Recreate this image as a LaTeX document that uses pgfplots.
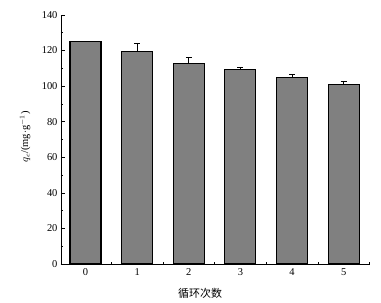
\documentclass[border=0pt]{standalone}
\usepackage{pgfplots}
\pgfplotsset{compat=1.18}
\usepackage{fontspec}
\setmainfont{Liberation Serif}
\newfontfamily\cjk{Noto Sans CJK SC}
\begin{document}
\begin{tikzpicture}
\path[use as bounding box] (-61bp,-39bp) rectangle (320bp,264bp);
\begin{axis}[
  at={(0,0)}, anchor=south west,
  scale only axis,
  width=309bp, height=249bp,
  axis lines*=left,
  xmin=-0.475, xmax=5.51,
  ymin=0, ymax=140,
  ytick={0,20,...,140},
  minor y tick num=1,
  xtick={0,1,2,3,4,5},
  minor xtick={0.5,1.5,2.5,3.5,4.5,5.5},
  tick align=inside,
  major tick length=4.5bp,
  minor tick length=2.5bp,
  tick style={black, line width=0.7pt},
  axis line style={black, line width=0.9pt},
  ticklabel style={font=\fontsize{10.5}{12}\selectfont},
  /pgf/number format/assume math mode=true,
  xlabel={\cjk\fontsize{11}{12}\selectfont 循环次数},
  xlabel style={at={(axis description cs:0.45,0)}, anchor=north, yshift=-21bp},
  ylabel={\fontsize{10.5}{12}\selectfont $q_e$/(mg$\cdot$g$^{-1}$)},
  ylabel style={at={(axis description cs:0,0.51)}, anchor=south, yshift=27bp},
  xticklabel style={yshift=-1bp},
  clip=false,
]
\addplot[ybar, bar width=31bp, fill=black!50, draw=black, line width=1.1pt,
  error bars/.cd, y dir=plus, y explicit,
  error bar style={line width=0.7pt, black},
  error mark options={rotate=90, mark size=3bp, line width=0.7pt, black}]
  coordinates {
  (0,125.0) +- (0,0)
  (1,119.4) +- (0,4.7)
  (2,112.6) +- (0,3.4)
  (3,109.3) +- (0,1.0)
  (4,105.0) +- (0,1.5)
  (5,101.0) +- (0,1.7)
  };
\end{axis}
\end{tikzpicture}
\end{document}
